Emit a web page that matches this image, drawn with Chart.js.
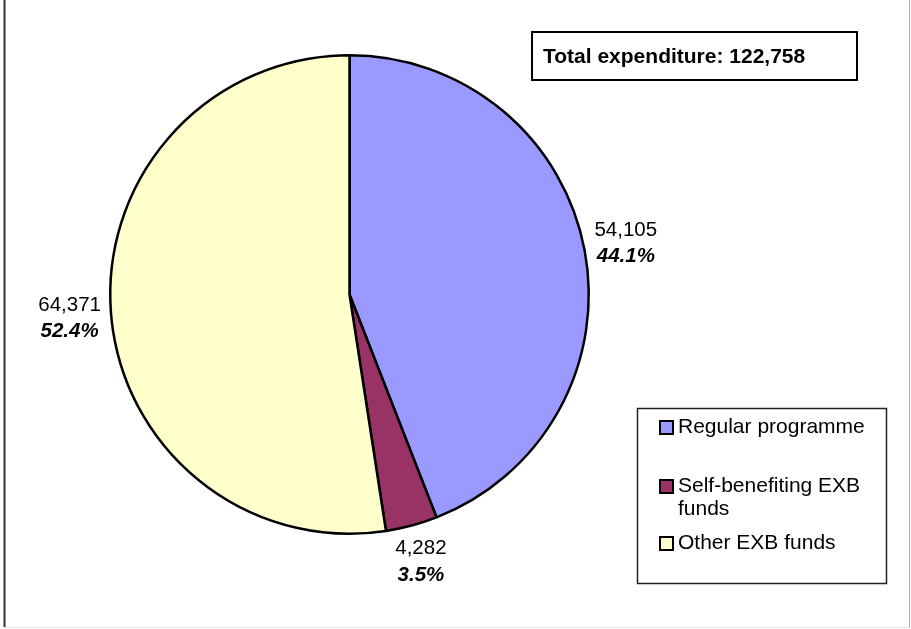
<!DOCTYPE html>
<html>
<head>
<meta charset="utf-8">
<script src="https://cdn.jsdelivr.net/npm/chart.js@4.4.0/dist/chart.umd.min.js"></script>
<style>
  html, body { margin: 0; padding: 0; background: #fff; }
  #wrap { width: 911px; height: 629px; }
</style>
</head>
<body>
<div id="wrap"><canvas id="chart" width="911" height="629"></canvas></div>
<script>
// chart data
const categories = ["Regular programme", "Self-benefiting EXB funds", "Other EXB funds"];
const expenditure = [54105, 4282, 64371];
const totalExpenditure = 122758;
const sliceColors = ["#9999FF", "#993366", "#FFFFCC"];

const FONT = '"Liberation Sans", Arial, sans-serif';

// wrap text into lines that fit maxWidth
function wrapText(ctx, text, maxWidth) {
  const words = text.split(" ");
  const lines = [];
  let cur = "";
  words.forEach((w) => {
    const test = cur ? cur + " " + w : w;
    if (cur && ctx.measureText(test).width > maxWidth) {
      lines.push(cur);
      cur = w;
    } else {
      cur = test;
    }
  });
  if (cur) lines.push(cur);
  return lines;
}

// data labels outside the slices
const sliceLabels = {
  id: "sliceLabels",
  afterDatasetsDraw(chart) {
    const ctx = chart.ctx;
    const meta = chart.getDatasetMeta(0);
    const values = chart.data.datasets[0].data;
    const total = values.reduce((a, b) => a + b, 0);
    ctx.save();
    ctx.fillStyle = "#000";
    ctx.textAlign = "center";
    ctx.textBaseline = "middle";
    meta.data.forEach((arc, i) => {
      const p = arc.getProps(["x", "y", "startAngle", "endAngle", "outerRadius"], true);
      const mid = (p.startAngle + p.endAngle) / 2;
      const dx = Math.cos(mid);
      const dy = Math.sin(mid);
      const ax = p.x + dx * (p.outerRadius + 10);
      const ay = p.y + dy * (p.outerRadius + 10);
      const line1 = values[i].toLocaleString("en-US");
      const line2 = ((values[i] / total) * 100).toFixed(1) + "%";
      ctx.font = "20.5px " + FONT;
      const w1 = ctx.measureText(line1).width;
      ctx.font = "italic bold 20.5px " + FONT;
      const w2 = ctx.measureText(line2).width;
      const w = Math.max(w1, w2);
      const lh = 26.5;
      const h = lh * 2;
      let cx, top;
      if (Math.abs(dx) > 0.7) {
        cx = dx > 0 ? ax + w / 2 : ax - w / 2;
        top = ay - h / 2 + Math.sign(dy) * 5;
      } else {
        cx = ax + dx * w / 2;
        top = dy > 0 ? ay : ay - h;
      }
      ctx.font = "20.5px " + FONT;
      ctx.fillText(line1, cx, top + lh / 2);
      ctx.font = "italic bold 20.5px " + FONT;
      ctx.fillText(line2, cx, top + lh * 1.5);
    });
    ctx.restore();
  }
};

// frame, total box and legend box
const decorations = {
  id: "decorations",
  afterDraw(chart) {
    const ctx = chart.ctx;
    ctx.save();

    // outer frame
    ctx.lineWidth = 2;
    ctx.strokeStyle = "#333";
    ctx.beginPath();
    ctx.moveTo(4.5, 0);
    ctx.lineTo(4.5, 627);
    ctx.stroke();
    ctx.strokeStyle = "#aaa";
    ctx.lineWidth = 1;
    ctx.beginPath();
    ctx.moveTo(909.5, 0);
    ctx.lineTo(909.5, 628);
    ctx.stroke();
    ctx.strokeStyle = "#e4e4e4";
    ctx.beginPath();
    ctx.moveTo(4, 627.5);
    ctx.lineTo(910, 627.5);
    ctx.stroke();

    // total expenditure box
    ctx.fillStyle = "#fff";
    ctx.fillRect(532, 32, 325, 48);
    ctx.strokeStyle = "#000";
    ctx.lineWidth = 2;
    ctx.strokeRect(532, 32, 325, 48);
    ctx.fillStyle = "#000";
    ctx.font = "bold 21px " + FONT;
    ctx.textAlign = "left";
    ctx.textBaseline = "middle";
    ctx.fillText("Total expenditure: " + totalExpenditure.toLocaleString("en-US"), 543, 57);

    // legend box
    ctx.fillStyle = "#fff";
    ctx.fillRect(637, 408, 250, 176);
    ctx.strokeStyle = "#222";
    ctx.lineWidth = 1.5;
    ctx.strokeRect(637.5, 408.5, 249, 175);

    const ds = chart.data.datasets[0];
    const rowTops = [427, 486, 543];
    ctx.font = "21px " + FONT;
    chart.data.labels.forEach((label, i) => {
      const y = rowTops[i];
      ctx.fillStyle = ds.backgroundColor[i];
      ctx.fillRect(660, y - 6, 13, 13);
      ctx.strokeStyle = "#000";
      ctx.lineWidth = 2;
      ctx.strokeRect(660, y - 6, 13, 13);
      ctx.fillStyle = "#000";
      const lines = wrapText(ctx, label, 200);
      lines.forEach((ln, j) => ctx.fillText(ln, 678, y + j * 23.5));
    });

    ctx.restore();
  }
};

new Chart(document.getElementById("chart"), {
  type: "pie",
  data: {
    labels: categories,
    datasets: [{
      data: expenditure,
      backgroundColor: sliceColors,
      borderColor: "#000",
      borderWidth: 2.5
    }]
  },
  options: {
    responsive: false,
    animation: false,
    layout: { padding: { left: 109, top: 54, right: 321, bottom: 94 } },
    plugins: {
      legend: { display: false },
      tooltip: { enabled: false }
    }
  },
  plugins: [sliceLabels, decorations]
});
</script>
</body>
</html>
